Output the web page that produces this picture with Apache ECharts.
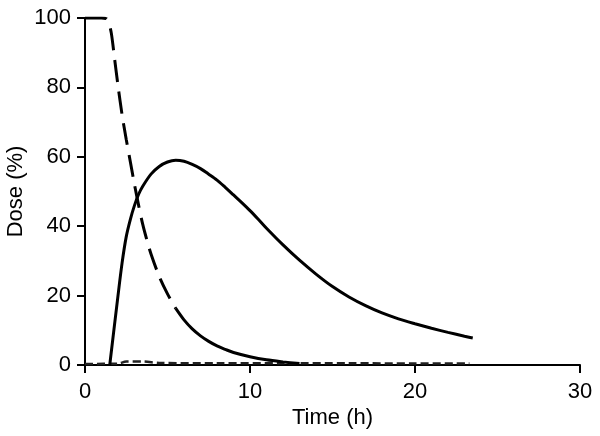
<!DOCTYPE html>
<html>
<head>
<meta charset="utf-8">
<script src="https://cdn.jsdelivr.net/npm/echarts@6/dist/echarts.min.js"></script>
<style>
  html, body { margin: 0; padding: 0; background: #fff; }
  #chart { width: 600px; height: 436px; }
</style>
</head>
<body>
<div id="chart"></div>
<script>
// 数据：从图中读取
const xTicks = [0, 10, 20, 30];
const yTicks = [0, 20, 40, 60, 80, 100];

// 长虚线（下降段）
const timeFallDash = [0, 1.0, 1.3, 1.45, 1.6, 1.8, 2.0, 2.25, 2.5, 2.75, 3.0, 3.25, 3.5, 3.75, 4.0, 4.5, 5.0, 5.5];
const doseFallDash = [100, 100, 99.8, 98.5, 95.5, 88, 80.5, 72, 65, 58.5, 52, 46, 40.5, 36, 32, 25.5, 20.5, 16.3];
// 同一曲线的尾部（实线）
const timeFallTail = [5.5, 6.0, 6.5, 7.0, 7.5, 8.0, 8.5, 9.0, 10, 11, 12, 13];
const doseFallTail = [16.3, 13, 10.4, 8.4, 6.8, 5.5, 4.5, 3.6, 2.4, 1.5, 0.9, 0.4];

// 实线（先升后降）
const timeRise = [1.5, 2.0, 2.25, 2.5, 2.75, 3.0, 3.25, 3.5, 4.0, 4.5, 5.0, 5.5, 6.0, 6.5, 7.0, 7.5, 8.0, 8.5,
    9.0, 9.5, 10, 10.5, 11, 12, 13, 14, 15, 16, 17, 18, 19, 20, 21, 22, 23, 23.5];
const doseRise = [0, 20, 29.5, 37, 42, 46, 49.2, 51.5, 55, 57.2, 58.5, 59, 58.7, 57.8, 56.6, 55, 53.3, 51.2,
    49, 46.8, 44.5, 42, 39.4, 34.6, 30.2, 26.2, 22.6, 19.6, 17.1, 15.0, 13.3, 11.9, 10.6, 9.4, 8.3, 7.8];

// 接近零的短虚线
const timeLow = [0, 2, 2.5, 3.5, 4.5, 8, 12, 16, 20, 23.3];
const doseLow = [0.3, 0.4, 1, 1, 0.6, 0.5, 0.5, 0.5, 0.4, 0.4];

const zip = (xs, ys) => xs.map((x, i) => [x, ys[i]]);

const chart = echarts.init(document.getElementById('chart'));
const font = 'Liberation Sans, Arial, sans-serif';

const axisCommon = {
    type: 'value',
    axisLine: { show: true, lineStyle: { color: '#000', width: 2 } },
    axisTick: { show: true, length: 8, lineStyle: { color: '#000', width: 2 } },
    splitLine: { show: false },
    nameMoveOverlap: false,
    nameTextStyle: { color: '#000', fontSize: 22, fontFamily: font }
};

const option = {
    backgroundColor: '#fff',
    animation: false,
    grid: { left: 85, right: 20, top: 18, bottom: 71, outerBoundsMode: 'none' },
    xAxis: Object.assign({}, axisCommon, {
        min: xTicks[0], max: xTicks[xTicks.length - 1], interval: 10,
        axisLabel: { color: '#000', fontSize: 22, fontFamily: font, margin: 16 },
        name: 'Time (h)', nameLocation: 'middle', nameGap: 42
    }),
    yAxis: Object.assign({}, axisCommon, {
        min: yTicks[0], max: yTicks[yTicks.length - 1], interval: 20,
        axisLabel: { color: '#000', fontSize: 22, fontFamily: font, margin: 14 },
        name: 'Dose (%)', nameLocation: 'middle', nameGap: 58
    }),
    series: [
        {
            type: 'line', data: zip(timeLow, doseLow), symbol: 'none', smooth: 0.3,
            lineStyle: { color: '#222', width: 2.5, type: [8, 4] }
        },
        {
            type: 'line', data: zip(timeFallDash, doseFallDash), symbol: 'none', smooth: 0.3,
            lineStyle: { color: '#000', width: 3, type: [22, 10] }
        },
        {
            type: 'line', data: zip(timeFallTail, doseFallTail), symbol: 'none', smooth: 0.3,
            lineStyle: { color: '#000', width: 3 }
        },
        {
            type: 'line', data: zip(timeRise, doseRise), symbol: 'none', smooth: 0.3,
            lineStyle: { color: '#000', width: 3 }
        }
    ]
};
chart.setOption(option);
</script>
</body>
</html>
